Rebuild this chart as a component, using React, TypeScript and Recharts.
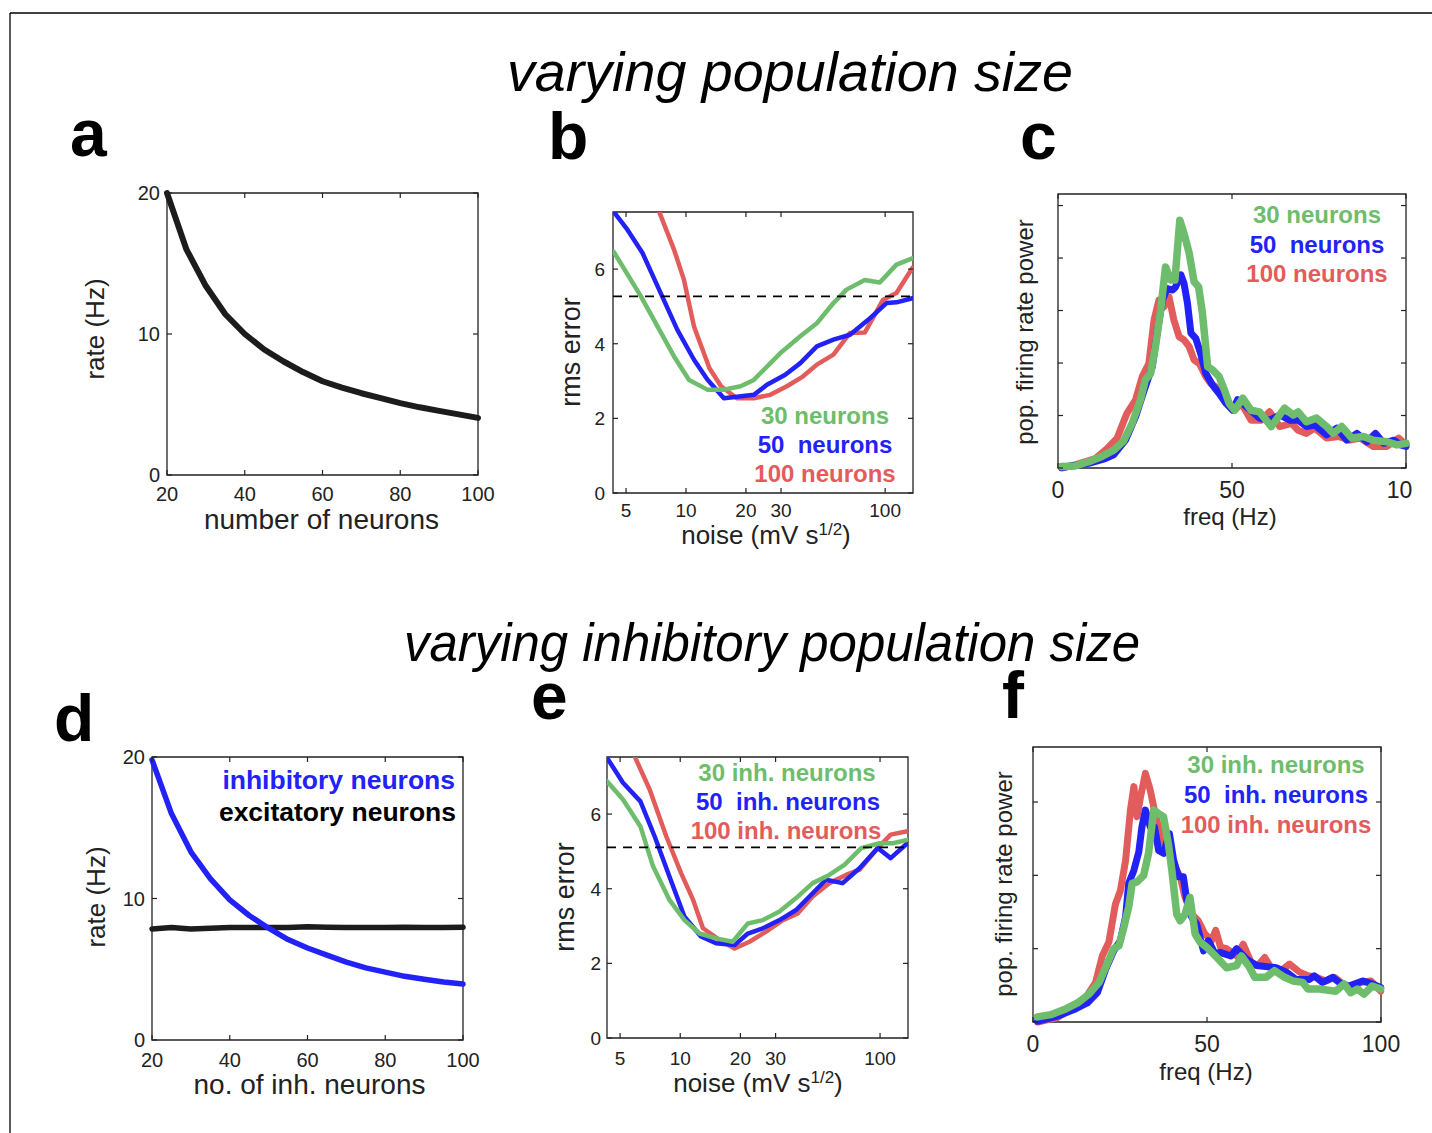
import React from "react";
import { LineChart, Line, XAxis, YAxis, ReferenceArea, ReferenceLine } from "recharts";

// ---------------- data ----------------
const aNeurons = [20, 25, 30, 35, 40, 45, 50, 55, 60, 65, 70, 75, 80, 85, 90, 95, 100];
const aRate = [20, 16, 13.4, 11.4, 10, 8.9, 8.05, 7.3, 6.65, 6.2, 5.8, 5.45, 5.1, 4.8, 4.55, 4.3, 4.05];

const dNeurons = [20, 25, 30, 35, 40, 45, 50, 55, 60, 65, 70, 75, 80, 85, 90, 95, 100];
const dInhRate = [19.8, 16, 13.3, 11.4, 9.9, 8.8, 7.9, 7.1, 6.5, 6.0, 5.5, 5.1, 4.8, 4.5, 4.3, 4.1, 3.95];
const dExcRate = [7.85, 7.95, 7.85, 7.9, 7.95, 7.95, 7.95, 7.95, 8.0, 7.97, 7.95, 7.95, 7.95, 7.97, 7.95, 7.95, 7.97];

const b30Noise = [4.33, 5.94, 8.71, 10.36, 12.8, 15.5, 18.8, 21.9, 29.8, 37.5, 45.4, 55, 64, 79, 94, 114, 137];
const b30Err = [6.47, 5.27, 3.66, 3.03, 2.77, 2.77, 2.86, 3.03, 3.75, 4.2, 4.55, 5.09, 5.45, 5.71, 5.64, 6.12, 6.29];
const b50Noise = [4.33, 5.09, 6.05, 7.33, 9.05, 10.97, 12.8, 15.5, 18.06, 21.9, 25.5, 31.5, 37.5, 45.4, 55, 66.6, 82.2, 101.6, 114, 137];
const b50Err = [7.54, 7.05, 6.43, 5.45, 4.37, 3.57, 3.04, 2.54, 2.58, 2.63, 2.9, 3.17, 3.48, 3.93, 4.11, 4.24, 4.64, 5.09, 5.11, 5.22];
const b100Noise = [7.33, 8.71, 9.77, 10.97, 13.1, 15, 18, 21.9, 26.5, 32.1, 38.6, 45.4, 55, 66.6, 79, 97.7, 114, 137];
const b100Err = [7.54, 6.52, 5.71, 4.46, 3.35, 2.86, 2.54, 2.54, 2.63, 2.86, 3.12, 3.44, 3.71, 4.29, 4.3, 5.18, 5.36, 6.03];
const bThreshold = 5.27;

const e30Noise = [4.3, 5.17, 6.32, 7.31, 8.83, 10.5, 12.5, 15.1, 18.3, 21.8, 25.9, 31.4, 38, 46, 55.7, 66.3, 80.5, 99.4, 116, 137];
const e30Err = [6.88, 6.39, 5.67, 4.6, 3.7, 3.16, 2.8, 2.67, 2.58, 3.07, 3.16, 3.39, 3.75, 4.15, 4.37, 4.64, 5.09, 5.22, 5.22, 5.31];
const e50Noise = [4.3, 5.17, 6.32, 7.45, 8.83, 10.5, 12.7, 15.1, 18.7, 21.8, 25.9, 31.4, 38, 46, 53.6, 65, 78.9, 97.4, 113, 137];
const e50Err = [7.51, 6.84, 6.34, 5.4, 4.33, 3.25, 2.72, 2.54, 2.49, 2.8, 2.94, 3.16, 3.43, 3.88, 4.24, 4.15, 4.55, 5.09, 4.82, 5.22];
const e100Noise = [5.92, 7.03, 8.52, 10.1, 11.6, 13.0, 15.7, 18.7, 22.2, 26.9, 32.6, 38.8, 46, 55.7, 67.6, 78.9, 97.4, 113, 137];
const e100Err = [7.54, 6.66, 5.4, 4.42, 3.7, 2.94, 2.63, 2.4, 2.58, 2.85, 3.16, 3.34, 3.79, 4.15, 4.37, 4.51, 5.09, 5.45, 5.54];
const eThreshold = 5.11;

const c30Freq = [1, 4.9, 8.8, 12.6, 16, 18.9, 21.3, 23.7, 25.1, 26.6, 28, 29.5, 30.9, 32.4, 33.6, 35, 36.2, 37.7, 39.1, 40.4, 41.5, 43, 44.4, 46.3, 47.8, 49.2, 50.7, 52.1, 53.1, 55.5, 57.9, 61.3, 65.1, 67.6, 69, 71.4, 74.3, 77.2, 79.1, 81.5, 84.4, 87.8, 90.6, 94.5, 97.4, 100];
const c30Pow = [0.03, 0.04, 0.12, 0.22, 0.34, 0.52, 0.85, 1.3, 1.68, 1.8, 2.31, 3.01, 3.83, 3.58, 3.58, 4.72, 4.47, 4.09, 3.55, 3.45, 2.95, 1.93, 1.87, 1.74, 1.49, 1.23, 1.1, 1.23, 1.33, 1.1, 1.07, 0.79, 1.14, 1.01, 1.07, 0.88, 0.95, 0.79, 0.66, 0.79, 0.57, 0.6, 0.53, 0.5, 0.44, 0.47];
const c50Freq = [1, 8.8, 13.6, 16, 19.4, 22.3, 25.1, 27.1, 28.5, 30, 31.4, 32.9, 33.8, 35.3, 36.2, 37.2, 38.2, 39.6, 41, 42.5, 44.4, 46.3, 48.3, 50.2, 51.6, 54.1, 57.9, 60.8, 63.7, 66.6, 69, 71.4, 73.8, 77.2, 80.1, 83, 85.9, 88.8, 91.2, 93.6, 96.5, 98.4, 100];
const c50Pow = [0.01, 0.09, 0.18, 0.25, 0.53, 0.98, 1.55, 1.93, 2.57, 3.2, 3.42, 3.39, 3.45, 3.68, 3.52, 3.14, 2.57, 2.47, 2.18, 1.8, 1.58, 1.42, 1.23, 1.1, 1.3, 1.17, 0.95, 0.91, 1.01, 0.91, 0.91, 0.79, 0.82, 0.63, 0.76, 0.53, 0.66, 0.5, 0.66, 0.47, 0.53, 0.44, 0.41];
const c100Freq = [1, 4.9, 10.7, 14.1, 17, 19.8, 22.3, 24.2, 26.1, 27.6, 29, 30.4, 31.9, 33.3, 34.8, 36.2, 37.7, 39.1, 40.6, 42.5, 43.9, 45.9, 48.3, 50.7, 52.7, 55.5, 58.4, 60.8, 63.7, 67.1, 69, 71.4, 73.8, 77.2, 80.6, 83.9, 86.8, 90.6, 94.5, 97.9, 100];
const c100Pow = [0, 0.06, 0.18, 0.37, 0.57, 1.04, 1.3, 1.74, 1.99, 2.82, 3.2, 3.07, 3.26, 2.82, 2.5, 2.44, 2.31, 2.06, 1.99, 1.74, 1.61, 1.52, 1.3, 1.1, 1.23, 0.91, 0.91, 1.07, 0.79, 0.85, 0.72, 0.66, 0.76, 0.57, 0.6, 0.53, 0.57, 0.41, 0.41, 0.57, 0.44];

const f30Freq = [1.3, 5.1, 9, 12.8, 16.1, 19, 21.3, 23.2, 24.7, 26.1, 27.5, 28.5, 29.9, 31.8, 33.2, 34.7, 36.1, 37.5, 38.9, 39.9, 41.3, 42.3, 43.7, 45.1, 46.6, 48, 49.9, 52.8, 55.6, 58.5, 59.9, 62.3, 63.7, 67, 69.4, 72.3, 74.7, 77.5, 79, 82.3, 87, 89.4, 91.3, 93.2, 95.1, 97.5, 99.9];
const f30Pow = [0.07, 0.1, 0.17, 0.26, 0.38, 0.54, 0.79, 1.0, 1.04, 1.29, 1.57, 1.89, 1.91, 2.0, 2.3, 2.89, 2.84, 2.8, 2.43, 2.07, 1.47, 1.38, 1.47, 1.7, 1.2, 1.09, 1.02, 0.88, 0.74, 0.77, 0.9, 0.74, 0.61, 0.61, 0.7, 0.61, 0.56, 0.54, 0.45, 0.45, 0.42, 0.52, 0.4, 0.45, 0.38, 0.49, 0.45];
const f50Freq = [1.3, 7, 11.8, 15.6, 18.5, 20.9, 23.2, 25.1, 26.6, 27.5, 29, 30.4, 31.3, 32.3, 33.7, 34.9, 36.1, 37.5, 39.2, 40.4, 41.8, 43.2, 44.2, 45.6, 47, 49, 50.4, 52.3, 53.7, 56.9, 58.5, 61.3, 64.2, 69.9, 72.8, 75.6, 79.4, 80.8, 83.2, 86.1, 88.5, 90.8, 94.7, 97.5, 99.9];
const f50Pow = [0.01, 0.08, 0.17, 0.26, 0.4, 0.72, 0.97, 1.11, 1.43, 1.89, 2.07, 2.32, 2.66, 2.89, 2.66, 2.66, 2.34, 2.3, 2.57, 2.21, 1.98, 1.98, 1.66, 1.43, 1.34, 0.97, 1.11, 0.93, 0.95, 0.9, 1.0, 0.86, 0.77, 0.74, 0.68, 0.58, 0.58, 0.63, 0.54, 0.61, 0.52, 0.49, 0.56, 0.52, 0.47];
const f100Freq = [1.3, 7, 11.8, 15.1, 18, 19.9, 21.8, 23.7, 25.1, 26.6, 28, 29, 29.9, 30.9, 32.3, 33.7, 35.1, 36.6, 38, 39.4, 40.9, 42.3, 43.7, 45.6, 47.5, 49.4, 51.3, 52.5, 53.9, 55.6, 58.5, 60.4, 62.7, 64.6, 66.6, 68.4, 71.3, 73.7, 76.6, 79, 81.3, 84.2, 86.6, 89, 91.8, 94.2, 97.1, 99.9];
const f100Pow = [0, 0.06, 0.2, 0.33, 0.54, 0.9, 1.09, 1.61, 1.79, 2.2, 2.89, 3.21, 2.8, 3.07, 3.39, 3.16, 2.84, 2.57, 2.39, 2.34, 2.11, 1.98, 1.7, 1.47, 1.38, 1.2, 1.11, 1.25, 1.02, 1.0, 0.9, 1.06, 0.81, 0.77, 0.88, 0.74, 0.7, 0.79, 0.68, 0.63, 0.61, 0.56, 0.61, 0.52, 0.47, 0.54, 0.56, 0.42];

const adXTicks = [20, 40, 60, 80, 100];
const adYTicks = [0, 10, 20];
const beXTicks = [5, 10, 20, 30, 100];
const beYTicks = [0, 2, 4, 6];
const cfXTicks = [0, 50, 100];
const cYTicks = [0, 1, 2, 3, 4, 5];
const fYTicks = [0, 1, 2, 3];

// ---------------- style / layout ----------------
const FONT = "'Liberation Sans', Arial, Helvetica, sans-serif";
const GREEN = "#6dbd6d";
const BLUE = "#2222f6";
const RED = "#e35c5c";
const BLACK = "#1c1c1c";
const AX = "#222";
const TXT = "#222";
const TL = 5;

const YW = 70, XH = 50, MT = 12, MR = 20;

const boxA = { L: 167, T: 193, W: 311, H: 282 };
const boxB = { L: 613, T: 212, W: 300, H: 281 };
const boxC = { L: 1058, T: 194, W: 348, H: 274 };
const boxD = { L: 152, T: 757, W: 311, H: 283 };
const boxE = { L: 607, T: 757, W: 301, H: 281 };
const boxF = { L: 1033, T: 747, W: 348, H: 275 };

const pts = (xs: number[], ys: number[]) => xs.map((x, i) => ({ x, y: ys[i] }));

function xTick(fs: number, off: number, plotH: number, labels = true) {
  return (p: any) => {
    const { x, y, payload } = p;
    return (
      <g>
        <line x1={x} x2={x} y1={y} y2={y - TL} stroke={AX} strokeWidth={1.2} />
        <line x1={x} x2={x} y1={y - plotH} y2={y - plotH + TL} stroke={AX} strokeWidth={1.2} />
        {labels && (
          <text x={x} y={y + off} textAnchor="middle" fontSize={fs} fontFamily={FONT} fill={TXT}>
            {payload.value}
          </text>
        )}
      </g>
    );
  };
}

function yTick(fs: number, gap: number, plotW: number, labels = true) {
  return (p: any) => {
    const { x, y, payload } = p;
    return (
      <g>
        <line x1={x} x2={x + TL} y1={y} y2={y} stroke={AX} strokeWidth={1.2} />
        <line x1={x + plotW} x2={x + plotW - TL} y1={y} y2={y} stroke={AX} strokeWidth={1.2} />
        {labels && (
          <text x={x - gap} y={y} dy="0.36em" textAnchor="end" fontSize={fs} fontFamily={FONT} fill={TXT}>
            {payload.value}
          </text>
        )}
      </g>
    );
  };
}

const chartPos = (b: { L: number; T: number; W: number; H: number }) => ({
  left: b.L - YW,
  top: b.T - MT,
  width: YW + b.W + MR,
  height: MT + b.H + XH,
});

const lineProps = { type: "linear" as const, dot: false, isAnimationActive: false, strokeLinejoin: "round" as const, strokeLinecap: "round" as const, dataKey: "y" };

function PanelA() {
  const p = chartPos(boxA);
  return (
    <div style={{ position: "absolute", left: p.left, top: p.top }}>
      <LineChart width={p.width} height={p.height} margin={{ top: MT, right: MR, bottom: 0, left: 0 }}>
        <XAxis type="number" dataKey="x" domain={[20, 100]} ticks={adXTicks} interval={0} height={XH} tickSize={0} tickMargin={0} axisLine={false} tick={xTick(20, 26, boxA.H)} />
        <YAxis type="number" domain={[0, 20]} ticks={adYTicks} interval={0} width={YW} tickSize={0} tickMargin={0} axisLine={false} tick={yTick(20, 7, boxA.W)} />
        <ReferenceArea x1={20} x2={100} y1={0} y2={20} fill="none" stroke={AX} strokeWidth={1.3} />
        <Line {...lineProps} data={pts(aNeurons, aRate)} stroke={BLACK} strokeWidth={6} />
      </LineChart>
    </div>
  );
}

function PanelD() {
  const p = chartPos(boxD);
  return (
    <div style={{ position: "absolute", left: p.left, top: p.top }}>
      <LineChart width={p.width} height={p.height} margin={{ top: MT, right: MR, bottom: 0, left: 0 }}>
        <XAxis type="number" dataKey="x" domain={[20, 100]} ticks={adXTicks} interval={0} height={XH} tickSize={0} tickMargin={0} axisLine={false} tick={xTick(20, 27, boxD.H)} />
        <YAxis type="number" domain={[0, 20]} ticks={adYTicks} interval={0} width={YW} tickSize={0} tickMargin={0} axisLine={false} tick={yTick(20, 7, boxD.W)} />
        <ReferenceArea x1={20} x2={100} y1={0} y2={20} fill="none" stroke={AX} strokeWidth={1.3} />
        <Line {...lineProps} data={pts(dNeurons, dExcRate)} stroke={BLACK} strokeWidth={5.5} />
        <Line {...lineProps} data={pts(dNeurons, dInhRate)} stroke={BLUE} strokeWidth={5.5} />
      </LineChart>
    </div>
  );
}

function NoisePanel({ box, s30, s50, s100, thr, off, gap }: any) {
  const p = chartPos(box);
  return (
    <div style={{ position: "absolute", left: p.left, top: p.top }}>
      <LineChart width={p.width} height={p.height} margin={{ top: MT, right: MR, bottom: 0, left: 0 }}>
        <XAxis type="number" dataKey="x" scale="log" domain={[4.3, 138]} allowDataOverflow ticks={beXTicks} interval={0} height={XH} tickSize={0} tickMargin={0} axisLine={false} tick={xTick(19, off, box.H)} />
        <YAxis type="number" domain={[0, 7.53]} allowDataOverflow ticks={beYTicks} interval={0} width={YW} tickSize={0} tickMargin={0} axisLine={false} tick={yTick(19, gap, box.W)} />
        <ReferenceArea x1={4.3} x2={138} y1={0} y2={7.53} fill="none" stroke={AX} strokeWidth={1.3} />
        <Line {...lineProps} data={s100} stroke={RED} strokeWidth={4.5} />
        <Line {...lineProps} data={s50} stroke={BLUE} strokeWidth={4.5} />
        <Line {...lineProps} data={s30} stroke={GREEN} strokeWidth={4.5} />
        <ReferenceLine y={thr} stroke="#000" strokeWidth={1.8} strokeDasharray="9 7" />
      </LineChart>
    </div>
  );
}

function SpecPanel({ box, s30, s50, s100, ymax, yticks, off, clipAt }: any) {
  const p = chartPos(box);
  const outerW = clipAt ? clipAt - p.left : p.width;
  return (
    <div style={{ position: "absolute", left: p.left, top: p.top, width: outerW, height: p.height, overflow: "hidden" }}>
      <LineChart width={p.width} height={p.height} margin={{ top: MT, right: MR, bottom: 0, left: 0 }}>
        <XAxis type="number" dataKey="x" domain={[0, 100]} ticks={cfXTicks} interval={0} height={XH} tickSize={0} tickMargin={0} axisLine={false} tick={xTick(23, off, box.H)} />
        <YAxis type="number" domain={[0, ymax]} ticks={yticks} interval={0} width={YW} tickSize={0} tickMargin={0} axisLine={false} tick={yTick(20, 7, box.W, false)} />
        <ReferenceArea x1={0} x2={100} y1={0} y2={ymax} fill="none" stroke={AX} strokeWidth={1.3} />
        <Line {...lineProps} data={s100} stroke={RED} strokeWidth={7} />
        <Line {...lineProps} data={s50} stroke={BLUE} strokeWidth={7} />
        <Line {...lineProps} data={s30} stroke={GREEN} strokeWidth={7.5} />
      </LineChart>
    </div>
  );
}

function Overlay() {
  const T = { fontFamily: FONT, fill: TXT } as any;
  const pre = { whiteSpace: "pre" } as any;
  const leg = { fontFamily: FONT, fontWeight: 700, fontSize: 24, textAnchor: "middle", style: pre } as any;
  return (
    <svg width={1432} height={1133} style={{ position: "absolute", left: 0, top: 0, pointerEvents: "none" }}>
      <line x1={10} y1={13} x2={1432} y2={13} stroke="#000" strokeWidth={1.3} />
      <line x1={10} y1={13} x2={10} y2={1133} stroke="#000" strokeWidth={1.3} />

      <text x={790} y={91} textAnchor="middle" fontSize={55} fontStyle="italic" textLength={566} lengthAdjust="spacingAndGlyphs" fontFamily={FONT} fill="#000">varying population size</text>
      <text x={772} y={661} textAnchor="middle" fontSize={53} fontStyle="italic" textLength={736} lengthAdjust="spacingAndGlyphs" fontFamily={FONT} fill="#000">varying inhibitory population size</text>

      <g fontFamily={FONT} fontWeight={700} fontSize={66} fill="#000">
        <text x={70} y={156}>a</text>
        <text x={548} y={159}>b</text>
        <text x={1020} y={159}>c</text>
        <text x={54} y={741}>d</text>
        <text x={531} y={719}>e</text>
        <text x={1002} y={718}>f</text>
      </g>

      {/* axis labels */}
      <text {...T} x={321.5} y={529} textAnchor="middle" fontSize={28}>number of neurons</text>
      <text {...T} transform="translate(104,329) rotate(-90)" textAnchor="middle" fontSize={26}>rate (Hz)</text>
      <text {...T} x={309.5} y={1094} textAnchor="middle" fontSize={28}>no. of inh. neurons</text>
      <text {...T} transform="translate(105,897) rotate(-90)" textAnchor="middle" fontSize={26}>rate (Hz)</text>

      <text {...T} x={766} y={544} textAnchor="middle" fontSize={26}>noise (mV s<tspan fontSize={17} dy={-9}>1/2</tspan><tspan dy={9}>)</tspan></text>
      <text {...T} transform="translate(580,352) rotate(-90)" textAnchor="middle" fontSize={27}>rms error</text>
      <text {...T} x={758} y={1092} textAnchor="middle" fontSize={26}>noise (mV s<tspan fontSize={17} dy={-9}>1/2</tspan><tspan dy={9}>)</tspan></text>
      <text {...T} transform="translate(574,897) rotate(-90)" textAnchor="middle" fontSize={27}>rms error</text>

      <text {...T} x={1230} y={525} textAnchor="middle" fontSize={24}>freq (Hz)</text>
      <text {...T} transform="translate(1033,332) rotate(-90)" textAnchor="middle" fontSize={24}>pop. firing rate power</text>
      <text {...T} x={1206} y={1080} textAnchor="middle" fontSize={24}>freq (Hz)</text>
      <text {...T} transform="translate(1012,884) rotate(-90)" textAnchor="middle" fontSize={24}>pop. firing rate power</text>

      {/* legends */}
      <text {...leg} x={825} y={424} fill={GREEN}>30 neurons</text>
      <text {...leg} x={825} y={453} fill={BLUE}>50  neurons</text>
      <text {...leg} x={825} y={482} fill={RED}>100 neurons</text>

      <text {...leg} x={1317} y={223} fill={GREEN}>30 neurons</text>
      <text {...leg} x={1317} y={253} fill={BLUE}>50  neurons</text>
      <text {...leg} x={1317} y={282} fill={RED}>100 neurons</text>

      <text {...leg} x={787} y={781} fill={GREEN}>30 inh. neurons</text>
      <text {...leg} x={788} y={810} fill={BLUE}>50  inh. neurons</text>
      <text {...leg} x={786} y={839} fill={RED}>100 inh. neurons</text>

      <text {...leg} x={1276} y={773} fill={GREEN}>30 inh. neurons</text>
      <text {...leg} x={1276} y={803} fill={BLUE}>50  inh. neurons</text>
      <text {...leg} x={1276} y={833} fill={RED}>100 inh. neurons</text>

      <text fontFamily={FONT} fontWeight={700} fontSize={26.5} textAnchor="end" x={455} y={789} fill={BLUE}>inhibitory neurons</text>
      <text fontFamily={FONT} fontWeight={700} fontSize={26.5} textAnchor="end" x={456} y={821} fill="#000">excitatory neurons</text>
    </svg>
  );
}

export default function App() {
  return (
    <div style={{ position: "absolute", left: 0, top: 0, width: 1432, height: 1133, background: "#fff", overflow: "hidden" }}>
      <PanelA />
      <NoisePanel box={boxB} s30={pts(b30Noise, b30Err)} s50={pts(b50Noise, b50Err)} s100={pts(b100Noise, b100Err)} thr={bThreshold} off={23.5} gap={8} />
      <SpecPanel box={boxC} s30={pts(c30Freq, c30Pow)} s50={pts(c50Freq, c50Pow)} s100={pts(c100Freq, c100Pow)} ymax={5.22} yticks={cYTicks} off={30} clipAt={1413} />
      <PanelD />
      <NoisePanel box={boxE} s30={pts(e30Noise, e30Err)} s50={pts(e50Noise, e50Err)} s100={pts(e100Noise, e100Err)} thr={eThreshold} off={27} gap={6} />
      <SpecPanel box={boxF} s30={pts(f30Freq, f30Pow)} s50={pts(f50Freq, f50Pow)} s100={pts(f100Freq, f100Pow)} ymax={3.75} yticks={fYTicks} off={30} />
      <Overlay />
    </div>
  );
}
